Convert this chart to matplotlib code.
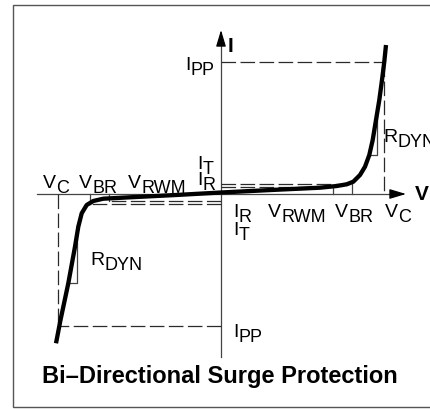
import matplotlib
matplotlib.use("Agg")
import matplotlib.pyplot as plt
import numpy as np

plt.rcParams['font.family'] = ['Liberation Sans', 'DejaVu Sans']
plt.rcParams['lines.scale_dashes'] = False

# ---- data (schematic units: V to the right, I upward) ----
curve_v = [-165, -160.5, -152.7, -146, -142.7, -139.3, -134.3, -127.7, -117.7, -91,
           -45, 0, 50, 99, 115.7, 125.7, 132.3, 139, 144, 148.3, 151.7, 155,
           158.3, 161, 163.3, 165]
curve_i = [-149.3, -126, -89.3, -52.7, -32.7, -19.3, -11, -7, -4.7, -3.3,
           -1, 1.5, 4, 6.3, 8, 9.7, 12.3, 19, 27.3, 39, 54, 74,
           94, 114, 132.3, 149]

ipp = 132      # peak pulse current level
vc = 162.5     # clamping voltage
vbr = 131      # breakdown voltage
vrwm = 112     # reverse working maximum voltage
it = 10        # test current
ir = 7         # reverse leakage current

# dynamic-resistance triangles: (v_left, v_right, i_low, i_high)
rdyn_pos = [148.3, 156.3, 39, 82]
rdyn_neg = [-153, -143.7, -89, -35]

title = "Bi\u2013Directional Surge Protection"

# ---- figure ----
fig = plt.figure(figsize=(4.30, 4.09), dpi=100)
ax = fig.add_axes([0, 0, 1, 1])
ax.set_xlim(-221, 209)
ax.set_ylim(-215, 194)
ax.axis('off')

dark = '#2a2a2a'
axis_col = '#444444'
dash = (10.5, 3.2)

# frame
ax.plot([230, -208, -208, 230], [189, 189, -213, -213], color='#555555', lw=1.0,
        solid_joinstyle='miter')

# axes with arrows
ax.plot([-184, 174], [0, 0], color=axis_col, lw=0.9)
ax.plot([0, 0], [-163, 154], color=axis_col, lw=0.9)
ax.annotate('', xy=(185, 0), xytext=(170, 0),
            arrowprops=dict(arrowstyle='-|>,head_length=1.0,head_width=0.3',
                            color='black', lw=0.9, shrinkA=0, shrinkB=0))
ax.annotate('', xy=(0, 164), xytext=(0, 149),
            arrowprops=dict(arrowstyle='-|>,head_length=1.0,head_width=0.3',
                            color='black', lw=0.9, shrinkA=0, shrinkB=0))

# dashed reference lines
dkw = dict(color=dark, lw=0.9, dashes=dash)
ax.plot([0, vc], [ipp, ipp], **dkw)
ax.plot([vc, vc], [ipp, 0], **dkw)
ax.plot([0, -vc], [-ipp, -ipp], **dkw)
ax.plot([-vc, -vc], [0, -ipp], **dkw)
ax.plot([0, vbr], [it, it], **dkw)
ax.plot([0, vrwm], [ir, ir], **dkw)
ax.plot([0, -vbr], [-it, -it], **dkw)
ax.plot([0, -vrwm], [-ir, -ir], **dkw)

# small ticks
tkw = dict(color=axis_col, lw=0.9)
ax.plot([vrwm, vrwm], [0, ir], **tkw)
ax.plot([vbr, vbr], [0, it], **tkw)
ax.plot([-vrwm, -vrwm], [0, -ir], **tkw)
ax.plot([-vbr, -vbr], [0, -it], **tkw)

# R_DYN triangles
for vl, vr, il, ih in (rdyn_pos, rdyn_neg):
    ax.plot([vl, vr, vr], [il, il, ih], color=axis_col, lw=0.9)

# characteristic curve
ax.plot(curve_v, curve_i, color='black', lw=3.1, solid_capstyle='butt',
        solid_joinstyle='round')

# ---- labels with subscripts ----
fig.canvas.draw()
renderer = fig.canvas.get_renderer()
inv = ax.transData.inverted()

MAIN = 14
SUB = 13

def label(x, y, main, sub, drop=5):
    t = ax.text(x, y, main, fontsize=MAIN, ha='left', va='baseline', color='black')
    bb = t.get_window_extent(renderer)
    x1 = inv.transform((bb.x1, bb.y0))[0]
    ax.text(x1 + 0.2, y - drop, sub, fontsize=SUB, ha='left', va='baseline',
            color='black')

label(-36, 124, 'I', 'PP')
label(-24, 25, 'I', 'T')
label(-24, 9, 'I', 'R')
label(-178, 6, 'V', 'C')
label(-142, 6, 'V', 'BR')
label(-93, 6, 'V', 'RWM')
label(12, -23, 'I', 'R')
label(12, -41, 'I', 'T')
label(47, -23, 'V', 'RWM')
label(114, -23, 'V', 'BR')
label(164, -23, 'V', 'C')
label(162, 52, 'R', 'DYN')
label(-131, -71, 'R', 'DYN')
label(12, -143, 'I', 'PP')

ax.text(7, 142, 'I', fontsize=15, fontweight='bold', ha='left', va='baseline')
ax.text(194, -6, 'V', fontsize=15, fontweight='bold', ha='left', va='baseline')
ax.text(-1, -189, title, fontsize=17, fontweight='bold', ha='center', va='baseline')

fig.savefig('out.png', dpi=100)
